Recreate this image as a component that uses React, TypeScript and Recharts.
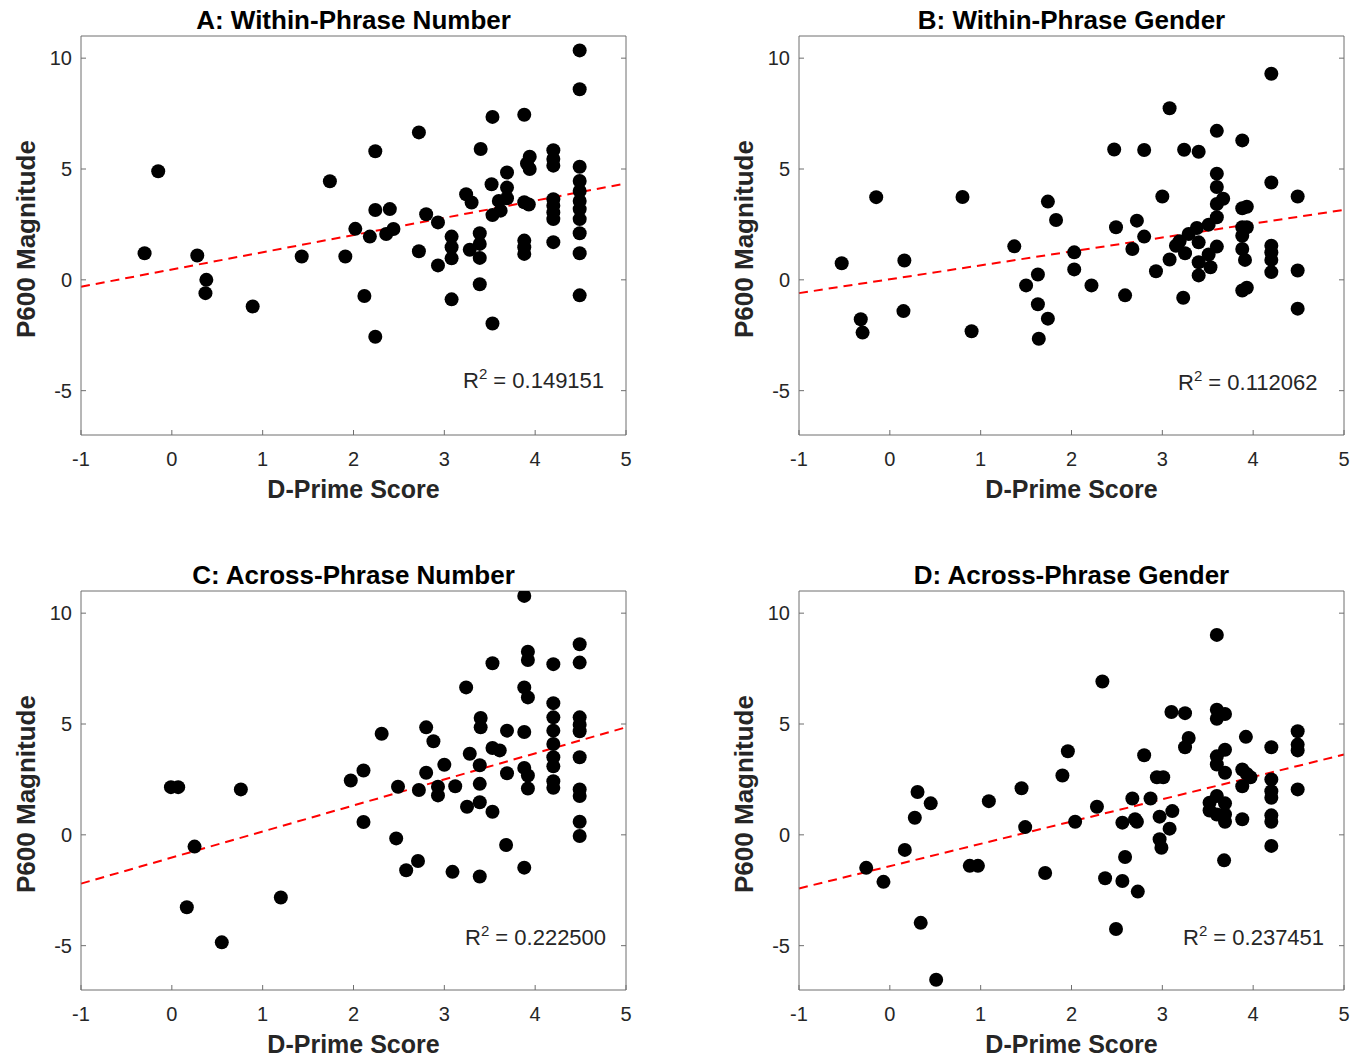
import React from "react";
import { ScatterChart, Scatter, XAxis, YAxis, ReferenceLine } from "recharts";

const xTicks = [-1, 0, 1, 2, 3, 4, 5];
const yTicks = [-5, 0, 5, 10];
const xDomain: [number, number] = [-1, 5];
const yDomain: [number, number] = [-7, 11];

const titles = [
  "A: Within-Phrase Number",
  "B: Within-Phrase Gender",
  "C: Across-Phrase Number",
  "D: Across-Phrase Gender",
];
const r2Values = ["0.149151", "0.112062", "0.222500", "0.237451"];

// (d-prime, P600) pairs
const pointsA: [number, number][] = [
  [-0.3, 1.2], [-0.15, 4.9], [0.28, 1.1], [0.38, 0.0], [0.37, -0.6], [0.89, -1.2],
  [1.43, 1.05], [1.74, 4.45], [1.91, 1.05], [2.02, 2.3], [2.12, -0.73], [2.18, 1.95],
  [2.24, 5.8], [2.24, 3.15], [2.24, -2.57], [2.4, 3.19], [2.36, 2.07], [2.44, 2.29],
  [2.72, 6.65], [2.8, 2.96], [2.93, 2.59], [2.72, 1.29], [2.93, 0.65], [3.08, 1.95],
  [3.08, 1.47], [3.08, 0.97], [3.08, -0.88], [3.24, 3.86], [3.3, 3.49], [3.39, 2.1],
  [3.39, 1.62], [3.39, 0.99], [3.28, 1.36], [3.39, -0.2], [3.4, 5.9], [3.53, 7.35],
  [3.53, -1.97], [3.52, 4.31], [3.69, 4.16], [3.69, 3.68], [3.6, 3.56], [3.62, 3.12],
  [3.53, 2.92], [3.69, 4.84], [3.88, 7.45], [3.94, 5.55], [3.91, 5.25], [3.94, 5.0],
  [3.88, 3.5], [3.93, 3.4], [3.88, 1.77], [3.88, 1.47], [3.88, 1.17], [4.2, 5.85],
  [4.2, 5.45], [4.2, 5.15], [4.2, 3.64], [4.2, 3.34], [4.2, 3.04], [4.2, 2.74],
  [4.2, 1.7], [4.49, 10.35], [4.49, 8.6], [4.49, 5.1], [4.49, 4.46], [4.49, 4.01],
  [4.49, 3.56], [4.49, 3.19], [4.49, 2.74], [4.49, 2.1], [4.49, 1.2], [4.49, -0.7],
];

const pointsB: [number, number][] = [
  [-0.53, 0.75], [-0.32, -1.78], [-0.3, -2.38], [-0.15, 3.73], [0.16, 0.87], [0.15, -1.41],
  [0.8, 3.74], [0.9, -2.32], [1.37, 1.51], [1.5, -0.25], [1.63, 0.24], [1.63, -1.1],
  [1.64, -2.66], [1.74, 3.53], [1.83, 2.7], [1.74, -1.75], [2.03, 1.24], [2.03, 0.47],
  [2.22, -0.25], [4.2, 9.3], [3.08, 7.74], [3.6, 6.72], [3.88, 6.29], [2.47, 5.88],
  [2.8, 5.86], [3.24, 5.87], [3.4, 5.78], [3.6, 4.79], [3.6, 4.19], [3.67, 3.66],
  [3.6, 3.42], [4.2, 4.39], [4.49, 3.76], [3.0, 3.76], [3.88, 3.23], [3.93, 3.3],
  [3.6, 2.82], [3.51, 2.49], [3.38, 2.34], [3.29, 2.07], [3.19, 1.74], [3.15, 1.54],
  [3.25, 1.2], [3.4, 1.69], [3.6, 1.5], [3.51, 1.14], [3.4, 0.79], [3.53, 0.57],
  [3.4, 0.2], [3.08, 0.92], [2.93, 0.39], [3.23, -0.81], [2.72, 2.67], [2.8, 1.95],
  [2.67, 1.39], [2.49, 2.37], [2.59, -0.7], [3.88, 2.37], [3.93, 2.37], [3.88, 1.99],
  [3.88, 1.39], [3.91, 0.9], [3.88, -0.48], [3.93, -0.36], [4.2, 1.54], [4.2, 1.24],
  [4.2, 0.9], [4.2, 0.35], [4.49, 0.42], [4.49, -1.3],
];

const pointsC: [number, number][] = [
  [-0.01, 2.15], [0.07, 2.15], [0.76, 2.05], [0.25, -0.53], [0.165, -3.27], [0.55, -4.85],
  [1.2, -2.83], [1.97, 2.45], [2.11, 2.9], [2.11, 0.58], [2.31, 4.56], [3.88, 10.78],
  [4.49, 8.6], [4.49, 7.77], [3.92, 8.26], [3.92, 7.89], [3.53, 7.74], [4.2, 7.7],
  [3.24, 6.65], [3.88, 6.65], [3.92, 6.2], [4.2, 5.94], [4.2, 5.3], [4.2, 4.7],
  [4.2, 4.1], [4.2, 3.5], [4.2, 3.09], [4.2, 2.42], [4.2, 2.12], [4.49, 5.3],
  [4.49, 4.97], [4.49, 4.67], [4.49, 3.5], [4.49, 2.05], [4.49, 1.75], [4.49, 0.59],
  [4.49, -0.05], [3.4, 5.27], [3.4, 4.85], [2.8, 4.85], [2.88, 4.22], [3.69, 4.7],
  [3.88, 4.64], [3.53, 3.92], [3.61, 3.81], [3.28, 3.66], [3.0, 3.16], [3.39, 3.14],
  [2.8, 2.8], [3.69, 2.78], [3.88, 3.02], [3.92, 2.68], [3.92, 2.09], [2.49, 2.17],
  [2.72, 2.02], [2.93, 2.17], [2.93, 1.78], [3.12, 2.19], [3.39, 2.3], [3.25, 1.27],
  [3.39, 1.47], [3.53, 1.04], [2.47, -0.16], [3.68, -0.46], [2.71, -1.18], [2.58, -1.6],
  [3.09, -1.67], [3.39, -1.88], [3.88, -1.48],
];

const pointsD: [number, number][] = [
  [-0.26, -1.49], [-0.07, -2.12], [0.165, -0.68], [0.275, 0.77], [0.305, 1.93], [0.45, 1.42],
  [0.34, -3.97], [0.51, -6.54], [0.88, -1.4], [0.97, -1.4], [1.09, 1.52], [1.45, 2.1],
  [1.49, 0.35], [1.71, -1.72], [1.9, 2.68], [1.96, 3.77], [2.04, 0.59], [2.28, 1.27],
  [2.34, 6.92], [3.6, 9.02], [3.1, 5.54], [3.25, 5.49], [3.6, 5.64], [3.6, 5.24],
  [3.69, 5.45], [4.49, 4.67], [4.49, 4.07], [4.49, 3.81], [3.92, 4.42], [4.2, 3.95],
  [3.29, 4.37], [3.25, 3.95], [3.69, 3.84], [3.6, 3.54], [3.6, 3.17], [3.69, 2.8],
  [2.8, 3.59], [2.94, 2.6], [3.01, 2.6], [3.88, 2.95], [3.93, 2.75], [3.97, 2.6],
  [3.88, 2.19], [4.2, 2.5], [4.2, 1.97], [4.2, 1.67], [4.49, 2.05], [2.67, 1.64],
  [2.87, 1.64], [2.56, 0.55], [2.7, 0.7], [2.72, 0.59], [2.97, 0.82], [3.11, 1.07],
  [3.08, 0.28], [2.97, -0.2], [2.99, -0.58], [3.52, 1.45], [3.6, 1.75], [3.52, 1.1],
  [3.69, 1.42], [3.6, 0.92], [3.69, 0.92], [3.69, 0.59], [3.88, 0.7], [4.2, 0.88],
  [4.2, 0.59], [4.2, -0.5], [3.68, -1.15], [2.59, -1.0], [2.37, -1.96], [2.56, -2.08],
  [2.73, -2.56], [2.49, -4.25],
];

// least-squares line end points, as drawn
const fitA: [number, number][] = [[-1, -0.31], [5, 4.35]];
const fitB: [number, number][] = [[-1, -0.6], [5, 3.16]];
const fitC: [number, number][] = [[-1, -2.2], [5, 4.85]];
const fitD: [number, number][] = [[-1, -2.42], [5, 3.62]];

const FONT = "'Liberation Sans', Arial, Helvetica, sans-serif";
const AXIS = "#6e6e6e";
const TEXT = "#262626";

const PLOT_W = 545;
const PLOT_H = 399;
const M = 10;
const Y_AXIS_W = 60;
const X_AXIS_H = 30;

type PanelProps = {
  title: string;
  points: [number, number][];
  fit: [number, number][];
  r2: string;
  plotLeft: number;
  plotTop: number;
  r2Left: number;
  r2Top: number;
};

const Dot = (props: any) => <circle cx={props.cx} cy={props.cy} r={7} fill="#000" />;

function Panel({ title, points, fit, r2, plotLeft, plotTop, r2Left, r2Top }: PanelProps) {
  const data = points.map(([x, y]) => ({ x, y }));
  const chartLeft = plotLeft - M - Y_AXIS_W;
  const chartTop = plotTop - M;

  return (
    <>
      <div
        style={{
          position: "absolute",
          left: plotLeft - 50,
          top: plotTop - 31,
          width: PLOT_W + 100,
          textAlign: "center",
          fontFamily: FONT,
          fontWeight: "bold",
          fontSize: 26,
          lineHeight: "30px",
          color: "#000",
          whiteSpace: "nowrap",
        }}
      >
        {title}
      </div>
      <div style={{ position: "absolute", left: chartLeft, top: chartTop }}>
        <ScatterChart
          width={PLOT_W + 2 * M + Y_AXIS_W}
          height={PLOT_H + 2 * M + X_AXIS_H}
          margin={{ top: M, right: M, bottom: M, left: M }}
        >
          <XAxis
            type="number"
            dataKey="x"
            domain={xDomain}
            ticks={xTicks}
            interval={0}
            allowDataOverflow
            height={X_AXIS_H}
            tickSize={-5}
            tickMargin={22}
            axisLine={{ stroke: AXIS }}
            tickLine={{ stroke: AXIS }}
            tick={{ fill: TEXT, fontSize: 20, fontFamily: FONT }}
          />
          <YAxis
            type="number"
            dataKey="y"
            domain={yDomain}
            ticks={yTicks}
            interval={0}
            allowDataOverflow
            width={Y_AXIS_W}
            tickSize={-5}
            tickMargin={14}
            axisLine={{ stroke: AXIS }}
            tickLine={{ stroke: AXIS }}
            tick={{ fill: TEXT, fontSize: 20, fontFamily: FONT }}
          />
          <XAxis
            xAxisId="top"
            orientation="top"
            mirror
            type="number"
            domain={xDomain}
            ticks={xTicks}
            interval={0}
            allowDataOverflow
            height={1}
            tickSize={5}
            axisLine={{ stroke: AXIS }}
            tickLine={{ stroke: AXIS }}
            tick={() => <g />}
          />
          <YAxis
            yAxisId="right"
            orientation="right"
            mirror
            type="number"
            domain={yDomain}
            ticks={yTicks}
            interval={0}
            allowDataOverflow
            width={1}
            tickSize={5}
            axisLine={{ stroke: AXIS }}
            tickLine={{ stroke: AXIS }}
            tick={() => <g />}
          />
          <Scatter data={data} shape={Dot} isAnimationActive={false} />
          <ReferenceLine
            segment={[
              { x: fit[0][0], y: fit[0][1] },
              { x: fit[1][0], y: fit[1][1] },
            ]}
            stroke="#ff0000"
            strokeWidth={2}
            strokeDasharray="9 6"
            ifOverflow="visible"
          />
        </ScatterChart>
      </div>
      <div
        style={{
          position: "absolute",
          left: plotLeft,
          top: plotTop + PLOT_H + 42,
          width: PLOT_W,
          textAlign: "center",
          fontFamily: FONT,
          fontWeight: "bold",
          fontSize: 25,
          lineHeight: "24px",
          color: TEXT,
          whiteSpace: "nowrap",
        }}
      >
        D-Prime Score
      </div>
      <div
        style={{
          position: "absolute",
          left: plotLeft - 55 - 110,
          top: plotTop + PLOT_H / 2 + 3 - 15,
          width: 220,
          textAlign: "center",
          fontFamily: FONT,
          fontWeight: "bold",
          fontSize: 26,
          lineHeight: "30px",
          color: TEXT,
          transform: "rotate(-90deg)",
          whiteSpace: "nowrap",
        }}
      >
        P600 Magnitude
      </div>
      <div
        style={{
          position: "absolute",
          left: r2Left,
          top: r2Top,
          fontFamily: FONT,
          fontSize: 22,
          lineHeight: "24px",
          color: TEXT,
          whiteSpace: "nowrap",
        }}
      >
        R<span style={{ fontSize: 15, position: "relative", top: -9 }}>2</span> = {r2}
      </div>
    </>
  );
}

export default function App() {
  return (
    <div
      style={{
        position: "absolute",
        left: 0,
        top: 0,
        width: 1363,
        height: 1057,
        background: "#fff",
        overflow: "hidden",
      }}
    >
      <Panel title={titles[0]} points={pointsA} fit={fitA} r2={r2Values[0]} plotLeft={81} plotTop={36} r2Left={463} r2Top={369} />
      <Panel title={titles[1]} points={pointsB} fit={fitB} r2={r2Values[1]} plotLeft={799} plotTop={36} r2Left={1178} r2Top={371} />
      <Panel title={titles[2]} points={pointsC} fit={fitC} r2={r2Values[2]} plotLeft={81} plotTop={591} r2Left={465} r2Top={926} />
      <Panel title={titles[3]} points={pointsD} fit={fitD} r2={r2Values[3]} plotLeft={799} plotTop={591} r2Left={1183} r2Top={926} />
    </div>
  );
}
